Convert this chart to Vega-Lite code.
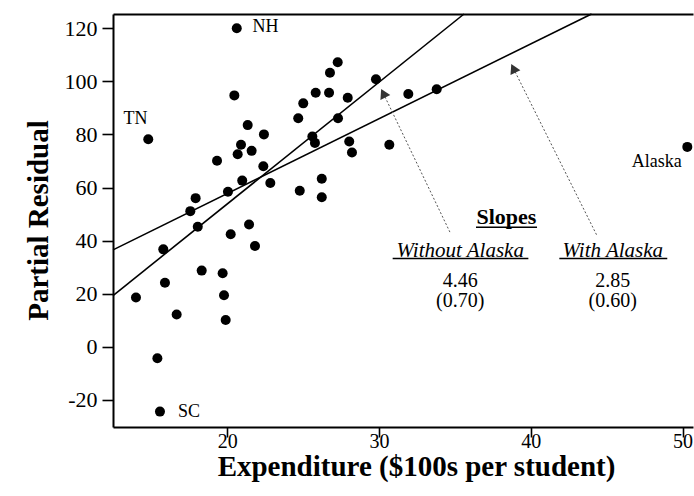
{
  "$schema": "https://vega.github.io/schema/vega-lite/v6.json",
  "width": 580,
  "height": 413,
  "autosize": {"type": "none"},
  "padding": {"left": 113, "top": 14, "right": 1, "bottom": 69},
  "background": "white",
  "config": {
    "view": {"stroke": null},
    "font": "Liberation Serif",
    "axis": {
      "domainColor": "black", "domainWidth": 2,
      "tickColor": "black", "tickWidth": 1.6,
      "labelFont": "Liberation Serif", "labelFontSize": 22, "labelColor": "black",
      "titleFont": "Liberation Serif", "titleFontSize": 29, "titleFontWeight": "bold", "titleColor": "black",
      "grid": false
    }
  },
  "datasets": {
    "pts": [
      {"x": 20.63, "y": 120.0, "state": "NH"}, {"x": 27.28, "y": 107.2}, {"x": 26.77, "y": 103.2}, {"x": 29.80, "y": 100.8},
      {"x": 20.47, "y": 94.7}, {"x": 25.83, "y": 95.7}, {"x": 26.71, "y": 95.7}, {"x": 25.01, "y": 91.7},
      {"x": 27.94, "y": 93.8}, {"x": 24.68, "y": 86.1}, {"x": 27.30, "y": 86.1}, {"x": 21.35, "y": 83.5},
      {"x": 14.80, "y": 78.2, "state": "TN"}, {"x": 22.42, "y": 80.0}, {"x": 25.61, "y": 79.2}, {"x": 25.78, "y": 76.8},
      {"x": 20.91, "y": 76.1}, {"x": 20.69, "y": 72.5}, {"x": 21.61, "y": 73.8}, {"x": 28.04, "y": 77.3},
      {"x": 28.22, "y": 73.2}, {"x": 30.68, "y": 76.1}, {"x": 19.33, "y": 70.1}, {"x": 22.38, "y": 68.0},
      {"x": 20.99, "y": 62.6}, {"x": 22.84, "y": 61.7}, {"x": 26.23, "y": 63.3}, {"x": 24.78, "y": 58.8},
      {"x": 26.23, "y": 56.3}, {"x": 20.05, "y": 58.4}, {"x": 17.92, "y": 56.0}, {"x": 17.57, "y": 51.1},
      {"x": 18.06, "y": 45.2}, {"x": 20.23, "y": 42.4}, {"x": 21.44, "y": 46.1}, {"x": 21.83, "y": 38.0},
      {"x": 15.79, "y": 36.7}, {"x": 18.32, "y": 28.7}, {"x": 19.70, "y": 27.7}, {"x": 15.90, "y": 24.1},
      {"x": 13.99, "y": 18.6}, {"x": 19.79, "y": 19.4}, {"x": 16.67, "y": 12.2}, {"x": 19.90, "y": 10.1},
      {"x": 15.40, "y": -4.3}, {"x": 15.57, "y": -24.4, "state": "SC"}, {"x": 31.93, "y": 95.2}, {"x": 33.80, "y": 97.0},
      {"x": 50.31, "y": 75.3, "state": "Alaska"}
    ],
    "fits": [
      {"fit": "without", "x": 12.48, "y": 19.3}, {"fit": "without", "x": 35.6, "y": 125.35},
      {"fit": "with", "x": 12.48, "y": 36.5}, {"fit": "with", "x": 44.0, "y": 125.35}
    ],
    "arrows": [
      {"arrow": "without", "role": "tail", "x": 34.68, "y": 43.1}, {"arrow": "without", "role": "head", "x": 30.28, "y": 95.5},
      {"arrow": "with", "role": "tail", "x": 44.34, "y": 42.1}, {"arrow": "with", "role": "head", "x": 38.85, "y": 104.9}
    ],
    "labels": [
      {"x": 22.52, "y": 118.5, "text": "NH"}, {"x": 13.96, "y": 83.9, "text": "TN"},
      {"x": 17.48, "y": -26.3, "text": "SC"}, {"x": 48.29, "y": 67.7, "text": "Alaska"}
    ],
    "heads": [
      {"x": 35.35, "y": 33.9, "text": "Without Alaska"}, {"x": 45.4, "y": 33.9, "text": "With Alaska"}
    ],
    "nums": [
      {"x": 35.35, "y": 22.4, "text": "4.46\n(0.70)"},
      {"x": 45.4, "y": 22.4, "text": "2.85\n(0.60)"}
    ],
    "unders": [
      {"x": 36.39, "x2": 40.41, "y": 45.0}, {"x": 30.9, "x2": 39.84, "y": 33.3}, {"x": 41.88, "x2": 48.99, "y": 33.3}
    ],
    "title": [{"x": 38.39, "y": 46.1, "text": "Slopes"}]
  },
  "resolve": {"axis": {"x": "independent"}},
  "layer": [
    {
      "data": {"name": "fits"},
      "mark": {"type": "line", "color": "black", "strokeWidth": 1.6},
      "encoding": {
        "x": {"field": "x", "type": "quantitative", "scale": {"domain": [12.477, 50.685], "nice": false, "zero": false},
              "axis": {"orient": "top", "labels": false, "ticks": false, "title": null, "domain": true, "domainWidth": 2}},
        "y": {"field": "y", "type": "quantitative"},
        "detail": {"field": "fit"}
      }
    },
    {
      "data": {"name": "arrows"},
      "mark": {"type": "line", "color": "#555555", "strokeWidth": 1, "strokeDash": [2, 2]},
      "encoding": {
        "x": {"field": "x", "type": "quantitative", "axis": null},
        "y": {"field": "y", "type": "quantitative"},
        "detail": {"field": "arrow"}
      }
    },
    {
      "data": {"name": "arrows"},
      "transform": [{"filter": "datum.role === 'head'"}],
      "mark": {"type": "point", "shape": "triangle-up", "filled": true, "color": "#333333", "size": 120, "angle": 334, "opacity": 1},
      "encoding": {
        "x": {"field": "x", "type": "quantitative", "axis": null},
        "y": {"field": "y", "type": "quantitative"}
      }
    },
    {
      "data": {"name": "pts"},
      "mark": {"type": "circle", "color": "black", "size": 100, "opacity": 1},
      "encoding": {
        "x": {"field": "x", "type": "quantitative",
              "axis": {"orient": "bottom", "values": [20, 30, 40, 50], "title": "Expenditure ($100s per student)",
                       "tickSize": 10, "labelPadding": 10, "labelBaseline": "alphabetic", "labelFontSize": 20,
                       "labelFlush": false, "labelOverlap": false, "titleFontSize": 29,
                       "titleX": 303, "titleY": 48, "titleAlign": "center", "titleBaseline": "alphabetic"}},
        "y": {"field": "y", "type": "quantitative", "scale": {"domain": [-30.2, 125.35], "nice": false, "zero": false},
              "axis": {"values": [-20, 0, 20, 40, 60, 80, 100, 120], "title": "Partial Residual",
                       "labelExpr": "'' + datum.value", "tickSize": 11, "labelPadding": 5,
                       "titleAngle": -90, "titleX": -75, "titleY": 206, "titleAlign": "center", "titleBaseline": "middle"}}
      }
    },
    {
      "data": {"name": "labels"},
      "mark": {"type": "text", "fontSize": 18, "color": "black", "align": "center", "baseline": "alphabetic"},
      "encoding": {
        "x": {"field": "x", "type": "quantitative", "axis": null},
        "y": {"field": "y", "type": "quantitative"},
        "text": {"field": "text"}
      }
    },
    {
      "data": {"name": "title"},
      "mark": {"type": "text", "fontSize": 22, "fontWeight": "bold", "color": "black", "align": "center", "baseline": "alphabetic"},
      "encoding": {
        "x": {"field": "x", "type": "quantitative", "axis": null},
        "y": {"field": "y", "type": "quantitative"},
        "text": {"field": "text"}
      }
    },
    {
      "data": {"name": "heads"},
      "mark": {"type": "text", "fontSize": 21, "fontStyle": "italic", "color": "black", "align": "center", "baseline": "alphabetic"},
      "encoding": {
        "x": {"field": "x", "type": "quantitative", "axis": null},
        "y": {"field": "y", "type": "quantitative"},
        "text": {"field": "text"}
      }
    },
    {
      "data": {"name": "nums"},
      "mark": {"type": "text", "fontSize": 20, "color": "black", "align": "center", "baseline": "alphabetic", "lineBreak": "\n", "lineHeight": 20},
      "encoding": {
        "x": {"field": "x", "type": "quantitative", "axis": null},
        "y": {"field": "y", "type": "quantitative"},
        "text": {"field": "text"}
      }
    },
    {
      "data": {"name": "unders"},
      "mark": {"type": "rule", "color": "black", "strokeWidth": 1.5},
      "encoding": {
        "x": {"field": "x", "type": "quantitative", "axis": null},
        "x2": {"field": "x2"},
        "y": {"field": "y", "type": "quantitative"}
      }
    }
  ]
}
